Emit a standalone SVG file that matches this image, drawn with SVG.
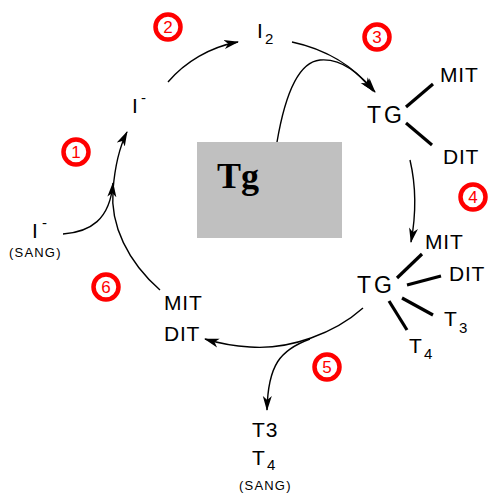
<svg xmlns="http://www.w3.org/2000/svg" width="488" height="497" viewBox="0 0 488 497">
  <style>
    .lbl { font-family: "Liberation Sans", Arial, sans-serif; font-size: 21px; letter-spacing: 0.8px; fill: #000; }
    .sub { font-family: "Liberation Sans", Arial, sans-serif; font-size: 15px; fill: #000; }
    .sup { font-family: "Liberation Sans", Arial, sans-serif; font-size: 15px; fill: #000; }
    .small { font-family: "Liberation Sans", Arial, sans-serif; font-size: 13px; letter-spacing: 1.2px; fill: #000; }
    .tg { font-family: "Liberation Sans", Arial, sans-serif; font-size: 23px; letter-spacing: 3px; fill: #000; }
    .arc { fill: none; stroke: #000; stroke-width: 1.4; }
    .bond { stroke: #000; stroke-width: 3.2; }
    .step circle { fill: #fff; stroke: #ff0000; stroke-width: 4.5; }
    .step text { font-family: "Liberation Sans", Arial, sans-serif; font-size: 17px; fill: #ff0000; text-anchor: middle; }
  </style>
  <defs>
    <marker id="arrow" markerUnits="userSpaceOnUse" markerWidth="15" markerHeight="10" refX="14" refY="5" orient="auto">
      <path d="M0,0.5 L15,5 L0,9.5 L4,5 z" fill="#000"/>
    </marker>
  </defs>
  <rect width="488" height="497" fill="#fff"/>

  <!-- connectors -->
  <g id="connectors">
    <path class="arc" d="M168,82 C185,62 210,47 238,42" marker-end="url(#arrow)"/>
    <path class="arc" d="M292,42 C330,50 355,68 375,92" marker-end="url(#arrow)"/>
    <path class="arc" d="M277,142 C285,95 298,62 320,60 C343,58 360,75 373,91" marker-end="url(#arrow)"/>
    <path class="arc" d="M410,160 C417,190 416,215 411,242" marker-end="url(#arrow)"/>
    <path class="arc" d="M363,308 C335,333 290,350 250,347 C232,346 218,343 205,339" marker-end="url(#arrow)"/>
    <path class="arc" d="M310,339 C280,350 268,365 267,410" marker-end="url(#arrow)"/>
    <path class="arc" d="M160,290 C128,262 110,225 113,190 C115,165 119,148 127,132" marker-end="url(#arrow)"/>
    <path class="arc" d="M63,234 C90,232 110,220 113,183" marker-end="url(#arrow)"/>
  </g>

  <!-- thyroglobulin store -->
  <g id="tg-store">
    <rect x="197" y="142" width="145" height="96" fill="#c0c0c0"/>
    <text x="217" y="188" font-family="'Liberation Serif', 'Times New Roman', serif" font-size="36" font-weight="bold">Tg</text>
  </g>

  <!-- iodide in blood -->
  <g id="iodide-blood">
    <text class="lbl" x="32" y="238">I</text>
    <text class="sup" x="42" y="228">-</text>
    <text class="small" x="9" y="257">(SANG)</text>
  </g>

  <!-- iodide in cell -->
  <g id="iodide">
    <text class="lbl" x="132" y="113">I</text>
    <text class="sup" x="141" y="103">-</text>
  </g>

  <!-- iodine -->
  <g id="iodine">
    <text class="lbl" x="257" y="38">I</text>
    <text class="sub" x="265" y="44">2</text>
  </g>

  <!-- iodinated thyroglobulin -->
  <g id="tg-iodinated">
    <text class="tg" x="367" y="123">TG</text>
    <line class="bond" x1="406" y1="107" x2="433" y2="84"/>
    <line class="bond" x1="406" y1="123" x2="432" y2="145"/>
    <text class="lbl" x="440" y="82">MIT</text>
    <text class="lbl" x="443" y="164">DIT</text>
  </g>

  <!-- coupled thyroglobulin -->
  <g id="tg-coupled">
    <text class="tg" x="357" y="293">TG</text>
    <line class="bond" x1="397" y1="278" x2="422" y2="254"/>
    <line class="bond" x1="407" y1="285" x2="441" y2="276"/>
    <line class="bond" x1="402" y1="298" x2="433" y2="315"/>
    <line class="bond" x1="389" y1="301" x2="407" y2="330"/>
    <text class="lbl" x="425" y="249">MIT</text>
    <text class="lbl" x="449" y="281">DIT</text>
    <text class="lbl" x="444" y="326">T</text>
    <text class="sub" x="459" y="333">3</text>
    <text class="lbl" x="409" y="353">T</text>
    <text class="sub" x="424" y="359">4</text>
  </g>

  <!-- recycled iodotyrosines -->
  <g id="mit-dit">
    <text class="lbl" x="164" y="310">MIT</text>
    <text class="lbl" x="164" y="341">DIT</text>
  </g>

  <!-- hormones to blood -->
  <g id="hormones">
    <text class="lbl" x="252" y="437">T3</text>
    <text class="lbl" x="252" y="465">T</text>
    <text class="sub" x="267" y="470">4</text>
    <text class="small" x="239" y="490">(SANG)</text>
  </g>

  <!-- step numbers -->
  <g id="step1" class="step"><circle cx="76" cy="152" r="12.5"/><text x="76" y="158">1</text></g>
  <g id="step2" class="step"><circle cx="168" cy="27" r="12.5"/><text x="168" y="33">2</text></g>
  <g id="step3" class="step"><circle cx="377" cy="37" r="12.5"/><text x="377" y="43">3</text></g>
  <g id="step4" class="step"><circle cx="473" cy="197" r="12.5"/><text x="473" y="203">4</text></g>
  <g id="step5" class="step"><circle cx="327" cy="367" r="12.5"/><text x="327" y="373">5</text></g>
  <g id="step6" class="step"><circle cx="106" cy="287" r="12.5"/><text x="106" y="293">6</text></g>
</svg>
